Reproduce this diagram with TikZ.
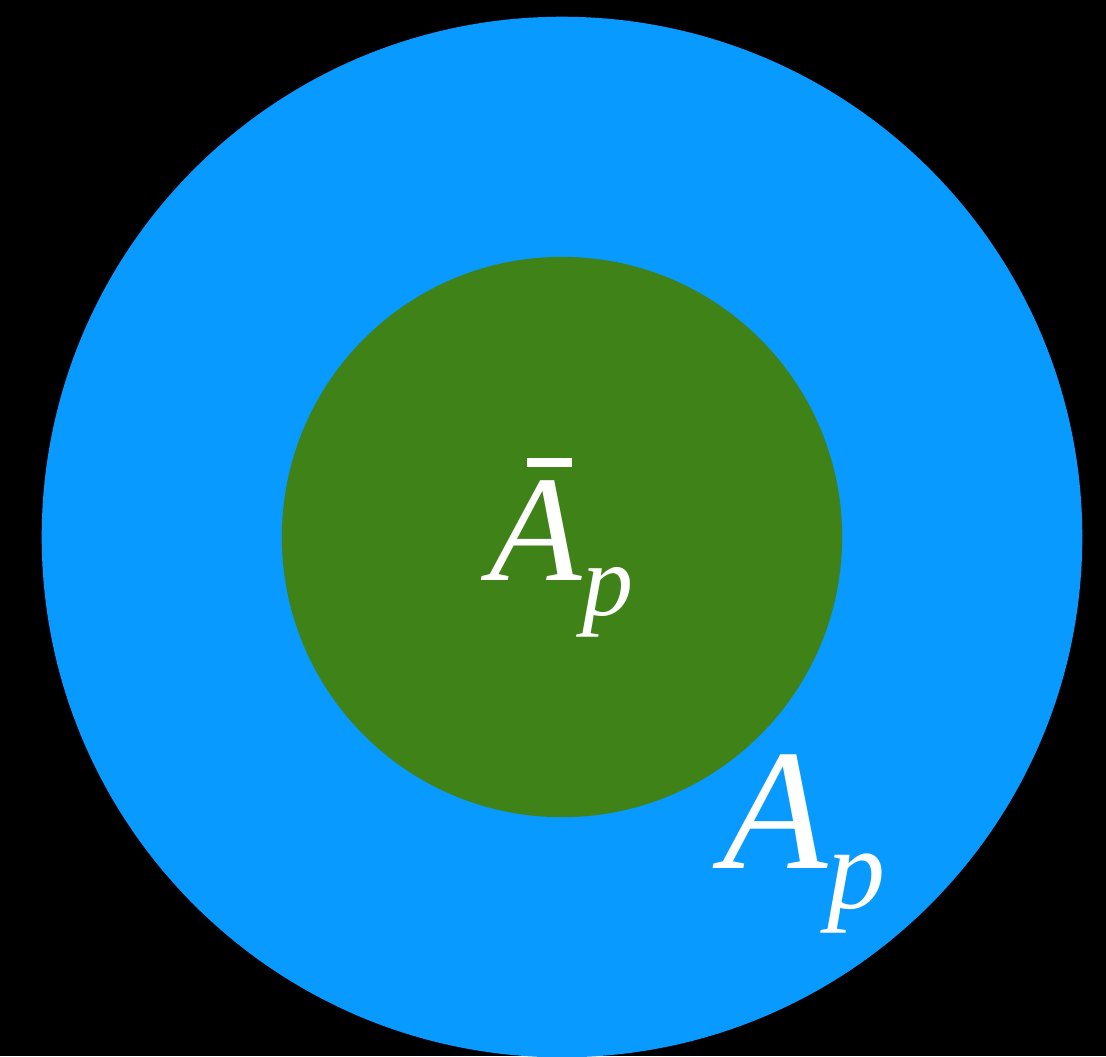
\documentclass[tikz,border=0pt]{standalone}
\usepackage{fontspec}
\setmainfont{Liberation Serif}
\definecolor{discblue}{RGB}{9,154,255}
\definecolor{discgreen}{RGB}{62,130,24}
\newcommand{\sublbl}[4]{{\fontsize{#1}{#1}\selectfont\itshape A}\raisebox{-#3}{\fontsize{#2}{#2}\selectfont\itshape #4}}

\begin{document}
\begin{tikzpicture}[x=0.01cm,y=-0.01cm]
\tikzstyle{disc}=[circle,inner sep=0pt]
\tikzstyle{lbl}=[text=white,inner sep=0pt,anchor=base west]
\fill[black] (0,0) rectangle (1106,1056);
\useasboundingbox (0,0) rectangle (1106,1056);
\node[disc,fill=discblue,minimum size=10.4cm] (outer) at (562,537) {};
\node[disc,fill=discgreen,minimum size=5.6cm] (inner) at (562,537) {};
\node[lbl] (abar) at (489,580) {\sublbl{43}{29}{0.35cm}{p}};
\fill[white] (527,458) rectangle (572,467);
\node[lbl] (ap) at (722,868) {\sublbl{49}{33}{0.4cm}{p}};
\end{tikzpicture}
\end{document}
